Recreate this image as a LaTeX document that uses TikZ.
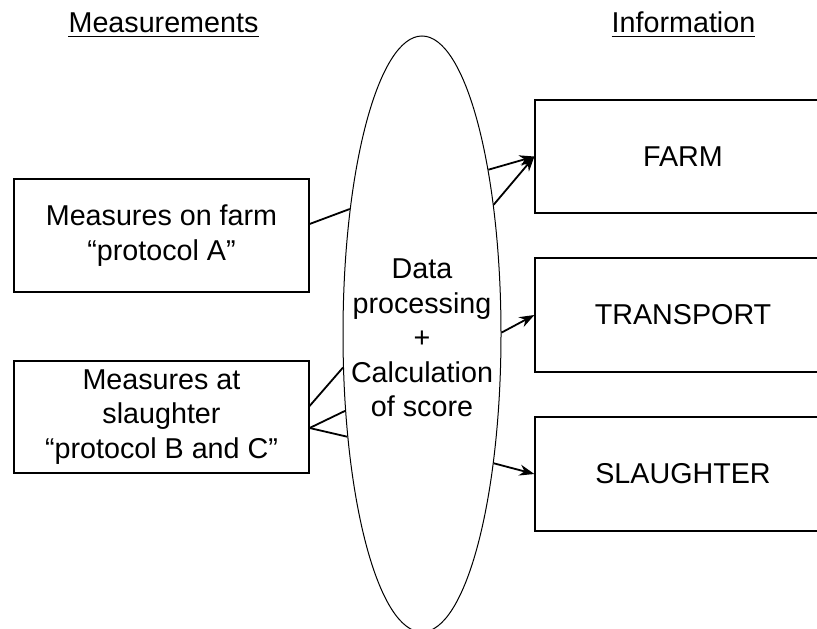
\documentclass[tikz,border=0pt]{standalone}
\usepackage{fontspec}
\setmainfont{Liberation Sans}
\usetikzlibrary{shapes.geometric,arrows.meta}
\newcommand\dgfont{\fontsize{28.7}{34.4}\selectfont}
\begin{document}
\begin{tikzpicture}[x=1pt,y=-1pt,
  box/.style={draw, line width=1.2pt, minimum width=295pt, minimum height=113pt, inner sep=0pt, align=center, font=\dgfont},
  conn/.style={line width=1.8pt},
  arr/.style={line width=1.8pt, -{Stealth[length=15pt,width=11pt]}},
  head/.style={inner sep=0pt, anchor=base, font=\dgfont},
  uline/.style={line width=1.8pt}]
\clip (0,0) rectangle (817,629);
\fill[white] (0,0) rectangle (817,629);
% headings
\node[head] (h1) at (163.5,32) {Measurements};
\node[head] (h2) at (683.5,32) {Information};
\draw[uline] ([yshift=-4.5pt]h1.base west) -- ([yshift=-4.5pt]h1.base east);
\draw[uline] ([yshift=-4.5pt]h2.base west) -- ([yshift=-4.5pt]h2.base east);
% left boxes
\node[box] (m1) at (161.5,235.5) {Measures on farm\\“protocol A”};
\node[box, minimum height=112pt] (m2) at (161.5,417) {Measures at\\slaughter\\“protocol B and C”};
% ellipse
\node[draw, ellipse, line width=1pt, minimum width=158pt, minimum height=596pt, inner sep=0pt,
  label={[align=center, font=\dgfont, inner sep=0pt, yshift=-4pt]center:Data\\processing\\+\\Calculation\\of score}] (ell) at (422,334) {};
% right boxes
\node[box, minimum width=296pt] (farm) at (683,156.5) {FARM};
\node[box, minimum width=296pt, minimum height=114pt] (trans) at (683,315) {TRANSPORT};
\node[box, minimum width=296pt, minimum height=114pt] (slau) at (683,474) {SLAUGHTER};
% connectors
\draw[conn] ([yshift=11.5pt]m1.east) -- (ell.120.5);
\draw[conn] ([yshift=11pt]m2.east) -- (ell.203.3);
\draw[conn] ([yshift=-11pt]m2.east) -- (ell.225);
\draw[conn] ([yshift=-11pt]m2.east) -- (ell.234);
\draw[arr] (ell.68.3) -- (farm.west);
\draw[arr] (ell.61.9) -- (farm.west);
\draw[arr] (ell.1.4) -- (trans.west);
\draw[arr] (ell.-61.5) -- (slau.west);
\end{tikzpicture}
\end{document}
